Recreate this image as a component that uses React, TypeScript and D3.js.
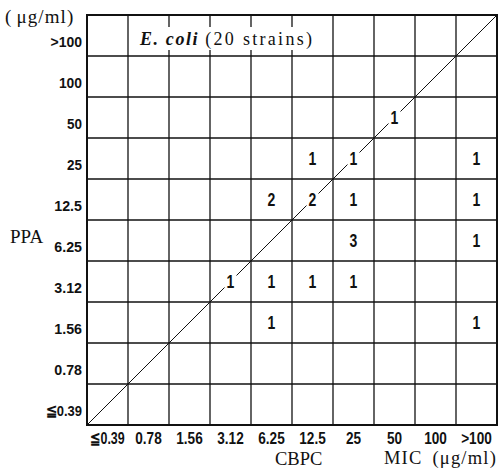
import React from "react";
import { scaleBand } from "d3";

// MIC categories (µg/ml), shared by both axes
const micLevels = ["≦0.39", "0.78", "1.56", "3.12", "6.25", "12.5", "25", "50", "100", ">100"];

// one entry per occupied cell: CBPC MIC, PPA MIC, number of strains
const cbpcMic = ["3.12", "6.25", "12.5", "25", "6.25", ">100", "25", ">100", "6.25", "12.5", "25", ">100", "12.5", "25", ">100", "50"];
const ppaMic = ["3.12", "3.12", "3.12", "3.12", "1.56", "1.56", "6.25", "6.25", "12.5", "12.5", "12.5", "12.5", "25", "25", "25", "50"];
const strainCount = [1, 1, 1, 1, 1, 1, 3, 1, 2, 2, 1, 1, 1, 1, 1, 1];

const W = 498;
const H = 475;
const margin = { top: 15, right: 1, bottom: 50, left: 87 };

const sans = "'Liberation Sans', Arial, sans-serif";
const serif = "'Liberation Serif', 'DejaVu Serif', 'Times New Roman', serif";

// rough advance widths (em) of Liberation Sans Bold, to squeeze labels into a condensed look
const charW = (ch: string) => (ch === "." ? 0.278 : ch === ">" || ch === "≦" ? 0.584 : 0.556);
const textW = (s: string, size: number) => s.split("").reduce((a, c) => a + charW(c), 0) * size;

const Narrow = ({ x, y, anchor = "middle", size = 16, squeeze = 0.8, spacing = 0, children }: any) => {
    const s = String(children);
    const len = textW(s, size) * squeeze + (s.length - 1) * spacing;
    return (
        <text x={x} y={y} textAnchor={anchor} textLength={len} lengthAdjust="spacingAndGlyphs"
            fontFamily={sans} fontWeight="bold" fontSize={size} fill="#111">{s}</text>
    );
};

export default function App() {
    const x = scaleBand().domain(micLevels).range([margin.left, W - margin.right]).padding(0);
    const y = scaleBand().domain(micLevels).range([H - margin.bottom, margin.top]).padding(0);
    const bw = x.bandwidth();
    const bh = y.bandwidth();
    const x0 = margin.left, x1 = W - margin.right;
    const y0 = H - margin.bottom, y1 = margin.top;

    const cells = strainCount.map((n, i) => ({ c: cbpcMic[i], p: ppaMic[i], n }));

    return (
        <svg width={W} height={H} style={{ position: "absolute", left: 0, top: 0, background: "#fff" }}>
            <rect width={W} height={H} fill="#fff" />

            {/* grid */}
            {micLevels.slice(1).map(m => (
                <line key={"v" + m} x1={x(m)} x2={x(m)} y1={y1} y2={y0} stroke="#111" strokeWidth={1.3} />
            ))}
            {micLevels.slice(1).map(m => (
                <line key={"h" + m} x1={x0} x2={x1} y1={y(m) + bh} y2={y(m) + bh} stroke="#111" strokeWidth={1.3} />
            ))}

            {/* line of equal MIC */}
            <line x1={x0} y1={y0} x2={x1} y2={y1} stroke="#111" strokeWidth={1} />

            {/* outer frame */}
            <rect x={x0} y={y1} width={x1 - x0} height={y0 - y1} fill="none" stroke="#111" strokeWidth={2} />

            {/* title box */}
            <rect x={x("0.78") + 3} y={27} width={188} height={23} fill="#fff" />
            <text x={140} y={45} fontFamily={serif} fontSize={18} fill="#111">
                <tspan fontStyle="italic" fontWeight="bold" letterSpacing={1.6}>E. coli</tspan>
                <tspan dx={6} letterSpacing={2.3}>(20 strains)</tspan>
            </text>

            {/* counts */}
            {cells.map((d, i) => {
                const cx = x(d.c) + bw / 2;
                const cy = y(d.p) + bh / 2;
                const onDiag = d.c === d.p;
                return (
                    <g key={i}>
                        {onDiag && <rect x={cx - 6} y={cy - 9} width={12} height={18} fill="#fff" />}
                        <Narrow x={cx} y={cy + 6.5} size={17.5}>{d.n}</Narrow>
                    </g>
                );
            })}

            {/* y tick labels */}
            {micLevels.map(m => (
                <Narrow key={"yl" + m} x={x0 - 5} y={y(m) + bh / 2 + 11.5} anchor="end" size={15.5} spacing={1.2}>{m}</Narrow>
            ))}
            {/* x tick labels */}
            {micLevels.map(m => (
                <Narrow key={"xl" + m} x={x(m) + bw / 2} y={444} size={17}>{m}</Narrow>
            ))}

            {/* axis titles */}
            <text x={5} y={23} fontFamily={serif} fontSize={19} letterSpacing={1.1} fill="#111">(<tspan dx={4}>μg/ml</tspan>)</text>
            <text x={10} y={243} fontFamily={serif} fontSize={19} fill="#111">PPA</text>
            <text x={275} y={465} fontFamily={serif} fontSize={18.5} fill="#111">CBPC</text>
            <text x={W - 1} y={464} textAnchor="end" fontFamily={serif} fontSize={18.5} letterSpacing={1.2} fill="#111">MIC<tspan dx={10}>(μg/ml)</tspan></text>
        </svg>
    );
}
